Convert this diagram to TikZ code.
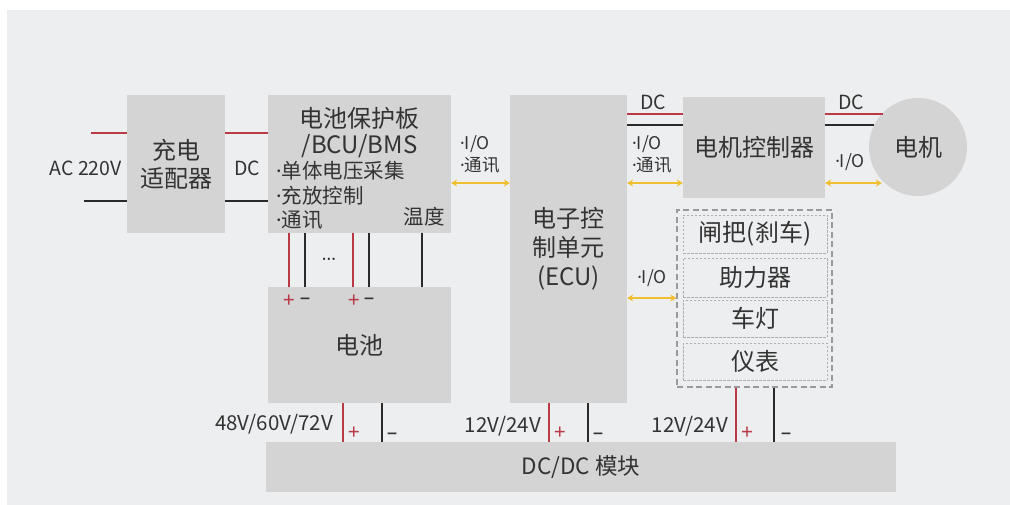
\documentclass[tikz,border=0pt]{standalone}
\usepackage{fontspec}
\setmainfont{Noto Sans CJK SC}
\newfontfamily\latinsans{Noto Sans}
\newcommand\mydot{{\latinsans ·}}
\usetikzlibrary{arrows.meta}
\definecolor{panel}{HTML}{EDEEF0}
\definecolor{boxgray}{HTML}{D4D4D4}
\definecolor{txt}{HTML}{333333}
\definecolor{wred}{HTML}{B83A44}
\definecolor{wblk}{HTML}{2A2A2A}
\definecolor{ylw}{HTML}{F0BE2E}
\definecolor{dgray}{HTML}{9A9A9A}
\tikzset{
  box/.style={fill=boxgray, draw=none, inner sep=0pt, text=txt},
  redw/.style={draw=wred, line width=1.8pt},
  blkw/.style={draw=wblk, line width=1.8pt},
  ioarrow/.style={draw=ylw, line width=1.8pt, {Stealth[length=6pt,width=7pt]}-{Stealth[length=6pt,width=7pt]}},
  lbl/.style={text=txt, inner sep=0pt},
  big/.style={font=\fontsize{24}{28}\selectfont},
  mid/.style={font=\fontsize{19.5}{24}\selectfont},
  lst/.style={font=\fontsize{20.5}{24}\selectfont},
  sml/.style={font=\fontsize{17.5}{22}\selectfont},
  pm/.style={font=\fontsize{21}{22}\selectfont\latinsans, inner sep=0pt},
  outerdash/.style={draw=dgray, line width=1.3pt, dash pattern=on 6pt off 3.5pt},
  innerdash/.style={draw=dgray!80, line width=0.8pt, dash pattern=on 2.5pt off 1.5pt, inner sep=0pt, text=txt},
}
\begin{document}
\begin{tikzpicture}[x=1pt,y=-1pt]
\useasboundingbox (0,0) rectangle (1010,505);
\fill[white] (0,0) rectangle (1010,505);
\fill[panel] (7,10) rectangle (1010,505);

% boxes
\node[box, minimum width=98pt, minimum height=138pt, big, align=center] (adp) at (176,164) {充电\\适配器};
\node[box, minimum width=183pt, minimum height=138pt] (bms) at (359.5,164) {};
\node[box, minimum width=183pt, minimum height=116pt, big] (bat) at (359.5,345) {电池};
\node[box, minimum width=117pt, minimum height=308pt, big, align=center, font=\fontsize{24}{29}\selectfont] (ecu) at (568.5,249) {电子控\\制单元\\(ECU)};
\node[box, minimum width=142pt, minimum height=101pt, big] (mc) at (754,147.5) {电机控制器};
\node[box, circle, minimum size=98pt, big] (motor) at (918,147) {电机};
\node[box, minimum width=630pt, minimum height=50pt, font=\fontsize{22.5}{26}\selectfont] (dcdc) at (581,467) {DC/DC 模块};

% dashed group
\node[outerdash, minimum width=155pt, minimum height=177pt, inner sep=0pt] (grp) at (754.5,298.5) {};
\node[innerdash, minimum width=144pt, minimum height=38pt, big] (g1) at (755,234) {闸把(刹车)};
\node[innerdash, minimum width=144pt, minimum height=39pt, big] (g2) at (755,277.5) {助力器};
\node[innerdash, minimum width=144pt, minimum height=37pt, big] (g3) at (755,318.5) {车灯};
\node[innerdash, minimum width=144pt, minimum height=37pt, big] (g4) at (755,361.5) {仪表};

% BMS texts
\node[lbl, big] (bmst1) at (359.5,118) {电池保护板};
\node[lbl, big] (bmst2) at (359.5,146) {/BCU/BMS};
\node[lbl, lst, anchor=west] (bmsl1) at (276,171) {\mydot 单体电压采集};
\node[lbl, lst, anchor=west] (bmsl2) at (276,196) {\mydot 充放控制};
\node[lbl, lst, anchor=west] (bmsl3) at (276,220) {\mydot 通讯};
\node[lbl, lst, anchor=east] (bmstemp) at (445,217) {温度};

% AC input
\coordinate (acr) at (91,133);
\coordinate (acb) at (84,201);
\draw[redw] (acr) -- (adp.west |- acr);
\draw[blkw] (acb) -- (adp.west |- acb);
\node[lbl, mid, anchor=east] (aclbl) at (122,168) {AC 220V};

% adapter -> BMS
\draw[redw] (adp.east |- 0,133) -- (bms.west |- 0,133);
\draw[blkw] (adp.east |- 0,201) -- (bms.west |- 0,201);
\node[lbl, mid] (dc1) at (247,168) {DC};

% BMS -> battery wires
\draw[redw] (bms.south -| 289,0) -- (bat.north -| 289,0);
\draw[blkw] (bms.south -| 305,0) -- (bat.north -| 305,0);
\draw[redw] (bms.south -| 353,0) -- (bat.north -| 353,0);
\draw[blkw] (bms.south -| 369,0) -- (bat.north -| 369,0);
\draw[blkw] (bms.south -| 422,0) -- (bat.north -| 422,0);
\node[lbl, sml] (dots) at (329,262) {\mydot\mydot\mydot};
\node[pm, text=wred] (bp1) at (289,301) {+};
\node[pm, text=txt] (bm1) at (305,301) {–};
\node[pm, text=wred] (bp2) at (354,301) {+};
\node[pm, text=txt] (bm2) at (369,301) {–};

% BMS <-> ECU
\draw[ioarrow] (bms.east |- 0,183) -- (ecu.west |- 0,183);
\node[lbl, sml, anchor=west, align=left] (io1) at (460,154) {\mydot I/O\\\mydot 通讯};

% ECU -> MC DC lines
\draw[redw] (ecu.east |- 0,114) -- (mc.west |- 0,114);
\draw[blkw] (ecu.east |- 0,125) -- (mc.west |- 0,125);
\node[lbl, mid] (dc2) at (653,102) {DC};
\draw[ioarrow] (ecu.east |- 0,183) -- (mc.west |- 0,183);
\node[lbl, sml, anchor=west, align=left] (io2) at (632,154) {\mydot I/O\\\mydot 通讯};

% MC -> motor
\draw[redw] (mc.east |- 0,114) -- (motor.west |- 0,114) -- ++(14,0);
\draw[blkw] (mc.east |- 0,125) -- (motor.west |- 0,125) -- ++(5,0);
\node[lbl, mid] (dc3) at (851,102) {DC};
\draw[ioarrow] (mc.east |- 0,183) -- (motor.west |- 0,183) -- ++(13,0);
\node[lbl, sml] (io3) at (850,162) {\mydot I/O};

% ECU <-> group
\draw[ioarrow] (ecu.east |- 0,298) -- (grp.west |- 0,298);
\node[lbl, sml] (io4) at (652,278) {\mydot I/O};

% to DC/DC
\draw[redw] (bat.south -| 343,0) -- (dcdc.north -| 343,0);
\draw[blkw] (bat.south -| 382,0) -- (dcdc.north -| 382,0);
\node[pm, text=wred] (p1) at (354,433) {+};
\node[pm, text=txt] (m1) at (392,436) {–};
\node[lbl, mid, anchor=east, font=\fontsize{20.5}{24}\selectfont] (v1) at (333,424) {48V/60V/72V};

\draw[redw] (ecu.south -| 549,0) -- (dcdc.north -| 549,0);
\draw[blkw] (ecu.south -| 588,0) -- (dcdc.north -| 588,0);
\node[pm, text=wred] (p2) at (560,433) {+};
\node[pm, text=txt] (m2) at (598,436) {–};
\node[lbl, mid, anchor=east, font=\fontsize{20.5}{24}\selectfont] (v2) at (541,426) {12V/24V};

\draw[redw] (grp.south -| 736,0) -- (dcdc.north -| 736,0);
\draw[blkw] (grp.south -| 774,0) -- (dcdc.north -| 774,0);
\node[pm, text=wred] (p3) at (747,433) {+};
\node[pm, text=txt] (m3) at (786,436) {–};
\node[lbl, mid, anchor=east, font=\fontsize{20.5}{24}\selectfont] (v3) at (728,426) {12V/24V};
\end{tikzpicture}
\end{document}
